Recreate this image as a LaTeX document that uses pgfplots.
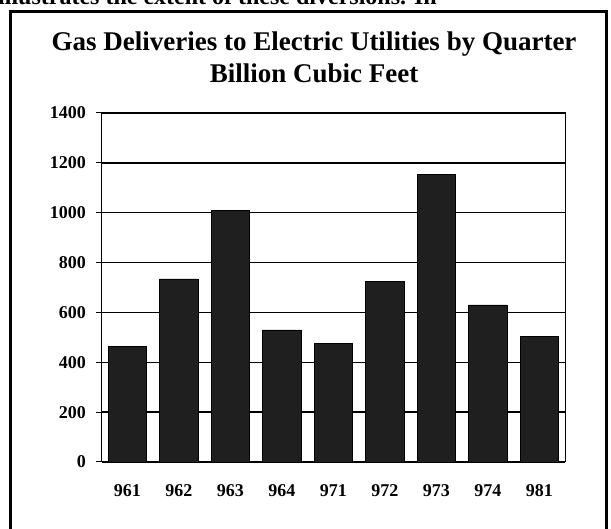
\documentclass[border=0pt]{standalone}
\usepackage{pgfplots}
\pgfplotsset{compat=1.18}
\usepackage{fontspec}
\setmainfont{Liberation Serif}
\begin{document}
\begin{tikzpicture}
\useasboundingbox (0,0) rectangle (611pt,-529pt);
\node[anchor=base west, inner sep=0pt, font=\fontsize{24}{24}\selectfont\bfseries] at (-2pt,-5pt) {illustrates the extent of these diversions. In};
\draw[line width=3pt] (10pt,-12pt) -- (10pt,-540pt);
\draw[line width=3pt] (8.5pt,-12pt) -- (606pt,-12pt) -- (606pt,-540pt);
\node[anchor=base, inner sep=0pt, font=\fontsize{27}{27}\selectfont\bfseries] at (314pt,-51pt) {Gas Deliveries to Electric Utilities by Quarter};
\node[anchor=base, inner sep=0pt, font=\fontsize{27}{27}\selectfont\bfseries] at (314pt,-83pt) {Billion Cubic Feet};
\begin{axis}[
  at={(101.5pt,-462pt)}, anchor=south west,
  scale only axis, width=463.5pt, height=349pt,
  xmin=-0.5, xmax=8.5, ymin=0, ymax=1400,
  ytick={0,200,...,1400},
  xtick={0,...,8},
  xticklabels={961,962,963,964,971,972,973,974,981},
  minor xtick={-0.5,0.5,...,8.5},
  xtick style={draw=none},
  minor x tick style={black, line width=1pt},
  y tick style={black, line width=1pt},
  major tick length=6pt, minor tick length=5pt,
  tick align=outside, tick pos=left,
  ymajorgrids,
  major grid style={black, line width=1.3pt},
  axis line style={black, line width=1pt},
  ticklabel style={font=\fontsize{18}{18}\selectfont\bfseries},
  /pgf/number format/assume math mode=true,
  /pgf/number format/1000 sep={},
  xticklabel style={yshift=-13pt},
  yticklabel style={xshift=-6pt},
  ybar, bar width=38.4pt,
]
\addplot[fill=black!88, draw=black, line width=0.5pt] coordinates {
(0,465) (1,735) (2,1010) (3,530) (4,475) (5,725) (6,1155) (7,630) (8,505)
};
\end{axis}
\end{tikzpicture}
\end{document}
